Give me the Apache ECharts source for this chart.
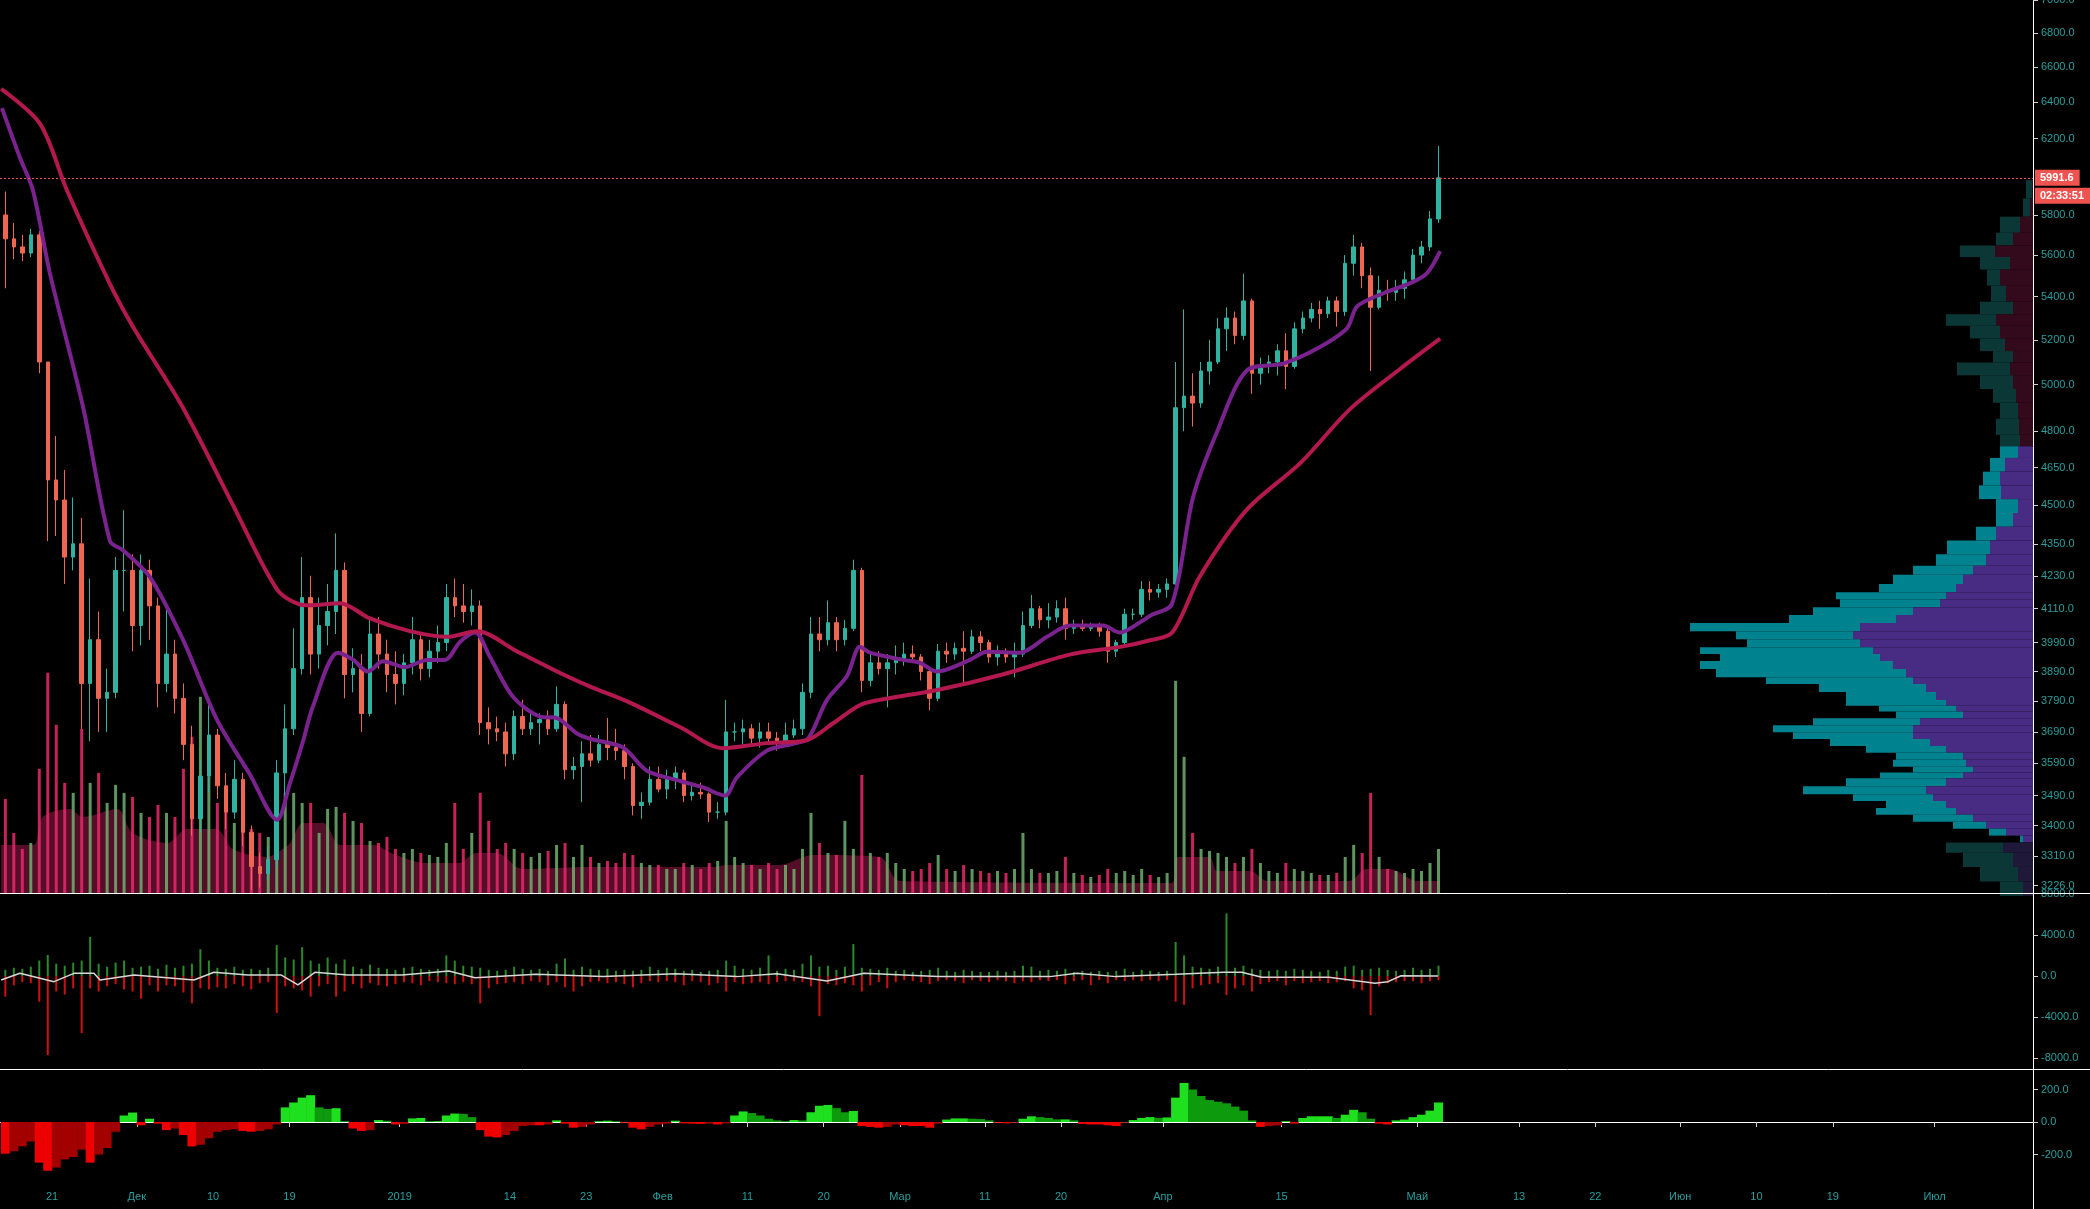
<!DOCTYPE html>
<html><head><meta charset="utf-8">
<script src="https://cdn.jsdelivr.net/npm/echarts@6/dist/echarts.min.js"></script>
<style>html,body{margin:0;padding:0;background:#000;}#c{width:2090px;height:1209px;}</style>
</head><body><div id="c"></div>
<script>
const DAY = 86400000;
const START = Date.UTC(2018, 10, 15);
const X_MIN = Date.UTC(2018, 10, 21) - 6.132 * DAY;
const X_MAX = X_MIN + 239.74 * DAY;

// daily candles from 2018-11-15: [open, high, low, close]
const candles = [
[5800,5920,5440,5680],[5680,5760,5580,5640],[5640,5700,5570,5610],[5610,5730,5590,5700],[5700,5720,5050,5100],
[5100,5100,4360,4600],[4600,4780,4380,4520],[4520,4640,4200,4300],[4300,4530,4250,4350],[4350,4450,3700,3850],
[3850,4220,3660,4000],[4000,4100,3690,3800],[3800,3900,3690,3820],[3820,4300,3800,4250],[4250,4480,4100,4250],
[4250,4310,3960,4050],[4050,4310,3980,4250],[4250,4290,4000,4120],[4120,4150,3770,3850],[3850,4120,3820,3950],
[3950,4000,3750,3800],[3800,3850,3600,3650],[3650,3710,3370,3420],[3420,3600,3380,3550],[3550,3780,3500,3680],
[3680,3700,3480,3520],[3520,3560,3390,3440],[3440,3600,3420,3540],[3540,3560,3340,3380],[3380,3400,3213,3280],
[3280,3320,3220,3260],[3260,3340,3240,3300],[3300,3600,3280,3560],[3560,3780,3480,3700],[3700,4040,3680,3900],
[3900,4300,3880,4150],[4150,4230,3880,3950],[3950,4150,3900,4050],[4050,4200,3980,4100],[4100,4390,4020,4250],
[4250,4280,3800,3880],[3880,3970,3820,3900],[3900,3950,3690,3750],[3750,4080,3740,4020],[4020,4080,3900,3950],
[3950,4000,3820,3880],[3880,3960,3780,3850],[3850,3950,3810,3920],[3920,4080,3880,4000],[4000,4020,3860,3900],
[3900,4000,3870,3960],[3960,4050,3920,3990],[3990,4200,3960,4150],[4150,4220,4080,4120],[4120,4200,4060,4100],
[4100,4180,4050,4120],[4120,4140,3680,3720],[3720,3770,3650,3700],[3700,3740,3660,3690],[3690,3720,3580,3620],
[3620,3760,3600,3740],[3740,3795,3680,3700],[3700,3760,3680,3720],[3720,3750,3650,3730],[3730,3760,3680,3700],
[3700,3840,3690,3780],[3780,3790,3540,3570],[3570,3610,3540,3580],[3580,3660,3470,3620],[3620,3680,3580,3600],
[3600,3680,3590,3650],[3650,3735,3600,3640],[3640,3700,3600,3630],[3630,3650,3540,3580],[3580,3590,3430,3460],
[3460,3500,3420,3470],[3470,3580,3460,3540],[3540,3580,3500,3510],[3510,3570,3480,3540],[3540,3580,3510,3560],
[3560,3570,3470,3490],[3490,3530,3475,3500],[3500,3530,3480,3495],[3495,3500,3410,3440],[3440,3470,3420,3440],
[3440,3795,3430,3690],[3690,3720,3660,3690],[3690,3730,3650,3700],[3700,3715,3650,3670],[3670,3720,3640,3690],
[3690,3720,3650,3670],[3670,3690,3630,3660],[3660,3720,3650,3680],[3680,3730,3670,3700],[3700,3850,3680,3820],
[3820,4080,3800,4020],[4020,4080,3960,4000],[4000,4140,3980,4060],[4060,4080,3960,4000],[4000,4070,3980,4040],
[4040,4290,4030,4250],[4250,4260,3820,3860],[3860,3960,3840,3920],[3920,3960,3880,3900],[3900,3950,3770,3920],
[3920,3980,3880,3930],[3930,3990,3910,3950],[3950,3980,3920,3940],[3940,3950,3860,3890],[3890,3900,3760,3800],
[3800,3985,3790,3960],[3960,3990,3920,3950],[3950,3990,3930,3970],[3970,4030,3850,3960],[3960,4035,3950,4010],
[4010,4030,3960,3990],[3990,4000,3920,3940],[3940,3980,3910,3950],[3950,3970,3920,3940],[3940,3990,3870,3950],
[3950,4100,3940,4050],[4050,4160,4040,4110],[4110,4120,4040,4070],[4070,4130,4040,4080],[4080,4140,4060,4110],
[4110,4150,4000,4040],[4040,4070,4020,4050],[4050,4070,4030,4040],[4040,4060,4030,4050],[4050,4060,4010,4030],
[4030,4040,3920,3960],[3960,4000,3940,3990],[3990,4110,3980,4090],[4090,4110,4070,4090],[4090,4210,4080,4180],
[4180,4210,4140,4170],[4170,4200,4150,4180],[4180,4220,4150,4200],[4200,5100,4180,4900],[4900,5340,4800,4950],
[4950,5050,4820,4920],[4920,5100,4900,5060],[5060,5200,5000,5100],[5100,5300,5090,5250],[5250,5350,5150,5300],
[5300,5330,5180,5220],[5220,5510,5200,5380],[5380,5390,4960,5050],[5050,5120,5000,5080],[5080,5130,5050,5100],
[5100,5180,5040,5150],[5150,5230,4980,5080],[5080,5280,5070,5250],[5250,5330,5230,5300],[5300,5370,5280,5340],
[5340,5380,5250,5320],[5320,5400,5300,5380],[5380,5400,5260,5330],[5330,5600,5310,5560],[5560,5700,5500,5640],
[5640,5660,5440,5500],[5500,5540,5060,5350],[5350,5500,5340,5430],[5430,5480,5380,5420],[5420,5480,5380,5440],
[5440,5520,5390,5480],[5480,5630,5470,5600],[5600,5670,5560,5640],[5640,5820,5620,5780],[5780,6160,5760,5991.6]
];

// daily volume (thousand BTC)
const volumes = [23.5,15,11,12.5,31,55,42,27.5,25,41,27.5,30,22.5,27,25,24,20,19,22,20,19,31,39,49,29,22.5,24,17.5,16,16,15,14,26,25,25,22.5,22.5,15,21,21.5,20,18,17.5,13,12.5,14,11,10,11,10,9.5,9,12.5,22.5,11,15,25,18,11,12.5,11,10,9,10,10.5,12,12.5,9,12,9,7.5,8,7.5,10,9.5,7.5,7,7,6,6,7.5,7,6,7.5,8,18,9,7.5,7,6,7.5,6,7,6,11,20,12.5,10,9.5,18,11,29.5,10,9,10,7.5,6,5.5,6,7.5,9.5,6,5.5,7,6,5.5,5,5.5,5,6,15,6,5,5,5.5,9,5,4.5,4,4.5,6,5,5.5,4.5,6,4.5,4,5,53,34,15,11,10.5,10,9,7.5,9,11,7.5,5.5,5,7.5,6,5.5,5,4.5,4.5,5,9,12,10,25,9,6,5.5,5,6,5.5,7.5,11];

// volume moving average: [day offset, value]
const volumeMA = [[0,12],[3.8,12],[4.9,19],[8.1,21],[9.6,19],[13.7,21],[15.5,15],[19.6,12.5],[21.9,16],[25.4,16],[27.3,11],[31.3,9],[33.2,11],[34.1,12.5],[35.6,17.5],[38,17.5],[40,12],[44,12],[46,10],[50,7.5],[54,7.5],[56,10],[58.5,10],[61.5,6],[69.4,6.5],[84,6.5],[85.6,7],[91.8,7],[95.7,9.5],[103.6,9],[106,3],[138,2.5],[138.7,9],[142.5,9],[143.4,5.5],[147.3,5.5],[149.3,3],[159,3],[161,6],[163.8,6],[167,3],[169.7,3]];

// moving averages: [day offset, price]
const maFast = [[0.1,6368],[2.2,6100],[3.75,5927],[5.76,5510],[9.65,4905],[12.84,4360],[14.37,4326],[17.55,4225],[21.44,4000],[25.45,3730],[29.34,3555],[32.53,3417],[34.06,3528],[35.6,3660],[36.77,3773],[39.72,3955],[41.49,3931],[43.26,3890],[45.03,3925],[47.62,3905],[50.22,3930],[52.34,3930],[54.11,3992],[55.88,4025],[57.65,3940],[60.36,3805],[63.54,3740],[65.55,3735],[67.9,3685],[69.44,3668],[73.33,3640],[76.16,3567],[80.05,3535],[82.77,3515],[85.36,3490],[86.77,3546],[90.31,3630],[93.38,3652],[95.15,3668],[97.39,3795],[99.75,3875],[101.28,3975],[102.46,3955],[106.35,3930],[108.35,3920],[110.36,3890],[114.25,3930],[116.26,3958],[120.15,3955],[123.33,4010],[126.04,4050],[129.93,4050],[131.93,4025],[134.65,4068],[135.5,4085],[138.07,4127],[140.55,4530],[143.38,4797],[146.9,5062],[151.2,5093],[155.2,5160],[158.7,5252],[159.9,5354],[162.95,5415],[166.1,5463],[168.1,5510],[169.7,5620]];
const maSlow = [[0,6476],[4.58,6282],[7.76,5927],[12.84,5460],[15.55,5260],[21.44,4900],[27.34,4500],[32.53,4180],[35.24,4125],[36.42,4122],[39.96,4130],[43.5,4075],[48.2,4030],[52.6,4010],[56.1,4030],[60.8,3960],[66.3,3880],[69.4,3840],[74.2,3785],[80.1,3705],[85.1,3638],[90.3,3654],[95.0,3663],[98.1,3718],[101.3,3778],[103.6,3795],[110.4,3828],[118.1,3880],[126.0,3948],[132.0,3975],[135.5,3998],[138.1,4025],[141.4,4230],[146.9,4482],[153.2,4668],[159.1,4895],[165.0,5070],[169.7,5205]];

// volume delta panel
const deltaBuy = [600,800,700,900,1500,2040,1200,1000,1300,1500,3790,1200,900,1300,1500,800,900,1000,700,1100,800,1000,1200,2600,1500,800,700,900,600,700,600,800,3000,1800,1600,2800,1500,1200,1800,1200,1600,900,700,1100,800,700,600,800,900,700,600,700,2000,1500,1000,900,800,600,500,600,900,700,600,700,500,1200,1700,600,900,700,600,700,500,600,500,600,900,600,800,700,500,600,400,500,600,1500,1000,700,600,800,2000,500,700,600,1200,2000,900,1000,600,900,3100,800,700,600,800,500,600,400,500,600,800,500,400,600,500,400,400,500,400,500,1000,900,500,600,500,700,400,500,400,500,400,500,700,400,600,500,400,500,3300,2000,900,800,700,900,6080,800,1000,700,600,500,600,500,700,600,500,400,600,500,900,1000,600,700,800,600,500,600,800,600,700,1000];
const deltaSell = [-2000,-900,-600,-700,-2500,-7670,-1500,-1800,-1200,-5530,-1200,-1500,-1000,-800,-1300,-1500,-2200,-900,-1500,-900,-1000,-1600,-2650,-1200,-1300,-1100,-1200,-800,-1000,-1300,-700,-600,-3600,-1000,-1200,-1400,-2000,-1000,-800,-2000,-1500,-800,-1200,-700,-900,-1000,-800,-600,-700,-900,-500,-600,-700,-800,-600,-800,-2650,-1200,-800,-700,-600,-800,-500,-600,-900,-600,-1100,-1500,-1000,-600,-500,-700,-600,-800,-1100,-700,-500,-600,-500,-600,-900,-500,-600,-900,-700,-1500,-600,-800,-700,-600,-800,-600,-500,-500,-600,-1000,-3900,-800,-900,-700,-900,-1500,-900,-600,-1200,-600,-400,-500,-600,-800,-500,-400,-500,-700,-400,-500,-600,-400,-500,-700,-500,-600,-400,-500,-400,-800,-500,-400,-900,-400,-700,-400,-500,-400,-500,-400,-500,-400,-2500,-2800,-1200,-900,-800,-700,-1850,-1200,-900,-1500,-800,-600,-500,-900,-500,-700,-600,-500,-700,-600,-500,-1200,-1400,-3790,-1000,-700,-600,-500,-500,-700,-500,-400];
const deltaLine = [[0,-390],[2.22,260],[6.23,-550],[8.59,260],[10.95,260],[11.66,-390],[15.67,100],[22.74,-390],[25.1,360],[29.11,100],[33.0,100],[35.0,-870],[37.0,360],[40.9,100],[47.27,100],[52.81,490],[55.88,-160],[63.07,160],[70.97,-60],[79.58,230],[86.77,-60],[91.49,230],[97.38,-490],[101.75,260],[110.48,-60],[123.68,-60],[126.87,260],[131.47,-60],[138.54,160],[144.2,360],[146.3,360],[148.68,-130],[156.58,-130],[162.0,-710],[163.55,-550],[165.08,30],[169.44,0]];

// oscillator panel (daily)
const oscillator = [-195,-180,-150,-120,-250,-300,-280,-230,-215,-170,-250,-200,-160,-60,40,58,-20,20,-10,-50,-40,-80,-150,-140,-100,-60,-50,-45,-55,-60,-55,-45,-15,90,120,150,165,90,80,85,5,-40,-55,-50,12,8,-15,-12,22,25,5,5,40,52,50,30,-50,-90,-95,-80,-55,-25,-20,-20,-15,10,-10,-35,-30,-15,5,8,5,-5,-35,-45,-30,-15,-10,8,-8,-10,-12,-10,-15,-8,40,65,55,40,20,10,5,12,10,60,100,105,85,60,68,-25,-30,-35,-30,-15,-20,-25,-25,-35,-10,15,22,22,20,18,10,-5,-8,-5,20,35,30,25,16,16,10,-12,-15,-15,-20,-25,-5,12,25,30,25,28,150,240,200,160,135,125,115,95,70,10,-30,-25,-20,5,-10,25,35,35,35,25,45,75,60,20,-10,-15,10,15,30,45,70,120];

// volume profile rows (price, up volume, down volume)
const vpPrice = [5932,5838,5745,5676,5619,5563,5496,5409,5344,5291,5238,5175,5123,5072,5011,4951,4892,4814,4757,4718,4661,4606,4551,4496,4442,4389,4337,4285,4250,4217,4183,4157,4132,4099,4075,4042,4018,3986,3962,3938,3914,3883,3859,3837,3806,3783,3768,3745,3723,3700,3678,3656,3634,3612,3590,3569,3554,3533,3505,3484,3463,3442,3422,3401,3380,3360,3340,3300,3258,3217];
const vpUp = [6,7,20,17,35,30,13,15,33,50,30,25,20,53,33,23,18,23,20,18,15,17,22,22,17,20,43,50,60,70,77,110,100,100,107,170,117,113,173,160,193,190,147,107,90,100,77,67,107,140,120,100,80,67,73,60,83,100,123,80,60,80,60,33,17,3,57,50,38,23];
const vpDown = [1,3,13,20,38,23,33,27,20,37,33,28,20,23,20,17,15,14,13,15,28,33,32,15,20,37,43,47,60,70,77,87,93,120,137,173,180,173,160,153,140,127,120,107,97,87,77,70,113,120,120,103,87,70,67,60,70,87,107,100,87,77,60,47,27,10,30,20,15,10];
const vaHigh = 4745, vaLow = 3352;

const priceTicks = [7000,6800,6600,6400,6200,5800,5600,5400,5200,5000,4800,4650,4500,4350,4230,4110,3990,3890,3790,3690,3590,3490,3400,3310,3226];
const deltaTicks = [8000,4000,0,-4000,-8000];
const oscTicks = [200,0,-200];
const dateTicks = [['2018-11-21','21'],['2018-12-01','Дек'],['2018-12-10','10'],['2018-12-19','19'],['2019-01-01','2019'],['2019-01-14','14'],['2019-01-23','23'],['2019-02-01','Фев'],['2019-02-11','11'],['2019-02-20','20'],['2019-03-01','Мар'],['2019-03-11','11'],['2019-03-20','20'],['2019-04-01','Апр'],['2019-04-15','15'],['2019-05-01','Май'],['2019-05-13','13'],['2019-05-22','22'],['2019-06-01','Июн'],['2019-06-10','10'],['2019-06-19','19'],['2019-07-01','Июл']];
const lastPrice = 5991.6;
const countdown = '02:33:51';

// ---------- build ----------
const FONT = 'Liberation Sans, Arial, sans-serif';
const LBL = '#2a9f9f';
const tOf = d => START + d * DAY;
const candleData = candles.map((c, i) => [tOf(i + 0.5), c[0], c[3], c[2], c[1]]);
const isUp = i => candles[i][3] >= candles[i][0];
const volData = volumes.map((v, i) => [tOf(i + 0.5), v]);
const pairs = arr => arr.map(p => [tOf(p[0]), p[1]]);
const tickMs = dateTicks.map(d => Date.parse(d[0]));
const tickText = {}; dateTicks.forEach(d => { tickText[Date.parse(d[0])] = d[1]; });

const vpRows = vpPrice.map((p, k) => {
  const hi = k === 0 ? p * Math.sqrt(p / vpPrice[1]) : Math.sqrt(p * vpPrice[k - 1]);
  const lo = k === vpPrice.length - 1 ? p * Math.sqrt(p / vpPrice[k - 1]) : Math.sqrt(p * vpPrice[k + 1]);
  return [lo, hi, vpUp[k], vpDown[k], p];
});

function oscColor(k) {
  const v = oscillator[k], p = k > 0 ? oscillator[k - 1] : 0;
  if (v >= 0) return v >= p ? '#1fe01f' : '#0d9a0d';
  return v <= p ? '#ee0000' : '#a30000';
}

const rightAxis = (grid, min, max, ticks, type) => ({
  gridIndex: grid, type: type || 'value', min: min, max: max, position: 'right',
  axisLine: {show: true, lineStyle: {color: '#ffffff', width: 1}},
  axisTick: {show: true, length: 5, customValues: ticks, lineStyle: {color: '#d0d0d0'}},
  axisLabel: {show: true, customValues: ticks, color: LBL, fontSize: 11, fontFamily: FONT, margin: 8,
    formatter: v => Number(v).toFixed(1)},
  splitLine: {show: false}
});
const hiddenX = grid => ({gridIndex: grid, type: 'value', min: X_MIN, max: X_MAX, show: false, splitLine: {show: false}});
const tagLabel = (text, offY) => ({show: true, position: 'end', distance: 2, offset: [0, offY], formatter: text,
  backgroundColor: '#ef5350', color: '#ffffff', fontWeight: 'bold', fontSize: 11, fontFamily: FONT, padding: [3, 6, 2, 5]});

const option = {
  backgroundColor: '#000000',
  animation: false,
  grid: [
    {left: 0, right: 57, top: 0, height: 893, outerBoundsMode: 'none', containLabel: false},
    {left: 0, right: 57, top: 893, height: 176, outerBoundsMode: 'none', containLabel: false},
    {left: 0, right: 57, top: 1069, height: 113, outerBoundsMode: 'none', containLabel: false}
  ],
  xAxis: [
    hiddenX(0),
    {gridIndex: 0, type: 'value', min: 0, max: 2033, inverse: true, show: false, splitLine: {show: false}},
    hiddenX(1),
    {gridIndex: 2, type: 'value', min: X_MIN, max: X_MAX, position: 'bottom',
      axisLine: {show: true, lineStyle: {color: '#ffffff', width: 1}},
      axisTick: {show: true, length: 5, customValues: tickMs, lineStyle: {color: '#d0d0d0'}},
      axisLabel: {show: true, customValues: tickMs, color: LBL, fontSize: 11, fontFamily: FONT, margin: 9,
        formatter: v => tickText[v] || ''},
      splitLine: {show: false}}
  ],
  yAxis: [
    rightAxis(0, 3205, 7000, priceTicks, 'log'),
    {gridIndex: 0, type: 'value', min: 0, max: 223, show: false, splitLine: {show: false}},
    rightAxis(1, -9030, 8060, deltaTicks),
    rightAxis(2, -369, 326, oscTicks)
  ],
  graphic: [
    {type: 'line', shape: {x1: 0, y1: 893.5, x2: 2090, y2: 893.5}, style: {stroke: '#ffffff', lineWidth: 1}, z: 100},
    {type: 'line', shape: {x1: 0, y1: 1069.5, x2: 2090, y2: 1069.5}, style: {stroke: '#ffffff', lineWidth: 1}, z: 100},
    {type: 'line', shape: {x1: 2033.5, y1: 1182, x2: 2033.5, y2: 1209}, style: {stroke: '#ffffff', lineWidth: 1}, z: 100}
  ],
  series: [
    {name: 'VolMA', type: 'line', xAxisIndex: 0, yAxisIndex: 1, data: pairs(volumeMA), smooth: 0.3,
      showSymbol: false, lineStyle: {width: 0}, areaStyle: {color: '#5a0f2a', opacity: 0.95}, z: 1},
    {name: 'Volume', type: 'bar', xAxisIndex: 0, yAxisIndex: 1, data: volData, barWidth: 3, z: 2,
      itemStyle: {color: p => isUp(p.dataIndex) ? 'rgba(110,175,110,0.85)' : 'rgba(226,40,104,0.88)'}},
    {name: 'Profile', type: 'custom', xAxisIndex: 1, yAxisIndex: 0, data: vpRows, encode: {x: 2, y: 4}, z: 2,
      renderItem: (params, api) => {
        const lo = api.value(0), hi = api.value(1), up = api.value(2), dn = api.value(3), mid = api.value(4);
        const inVA = mid <= vaHigh && mid >= vaLow, above = mid > vaHigh;
        const a = api.coord([0, hi]), b = api.coord([dn, lo]), c = api.coord([dn + up, lo]);
        const dnCol = inVA ? '#482b83' : (above ? '#330a1b' : '#1f1838');
        const upCol = inVA ? '#00838f' : '#0b3836';
        return {type: 'group', children: [
          {type: 'rect', shape: {x: b[0], y: a[1], width: a[0] - b[0], height: b[1] - a[1]}, style: {fill: dnCol}},
          {type: 'rect', shape: {x: c[0], y: a[1], width: b[0] - c[0], height: b[1] - a[1]}, style: {fill: upCol}}
        ]};
      }},
    {name: 'Price', type: 'candlestick', xAxisIndex: 0, yAxisIndex: 0, data: candleData,
      encode: {x: 0, y: [1, 2, 3, 4]}, barWidth: 4, z: 3,
      itemStyle: {color: '#2fb3a0', color0: '#ef6653', borderColor: '#2fb3a0', borderColor0: '#ef6653', borderWidth: 1},
      markLine: {symbol: ['none', 'none'], silent: true, animation: false,
        lineStyle: {color: '#ef5350', type: [2, 2], width: 1},
        data: [
          {yAxis: lastPrice, label: tagLabel(lastPrice.toFixed(1), 0)},
          {yAxis: lastPrice, lineStyle: {color: 'rgba(0,0,0,0)'}, label: tagLabel(countdown, 18)}
        ]}},
    {name: 'MA slow', type: 'line', xAxisIndex: 0, yAxisIndex: 0, data: pairs(maSlow), smooth: 0.3, showSymbol: false,
      lineStyle: {color: '#b3184e', width: 4}, z: 5},
    {name: 'MA fast', type: 'line', xAxisIndex: 0, yAxisIndex: 0, data: pairs(maFast), smooth: 0.3, showSymbol: false,
      lineStyle: {color: '#7a228e', width: 4}, z: 4},
    {name: 'Buy', type: 'bar', xAxisIndex: 2, yAxisIndex: 2, data: deltaBuy.map((v, i) => [tOf(i + 0.5), v]),
      barWidth: 2, barGap: '-100%', itemStyle: {color: '#2a8a2a'}},
    {name: 'Sell', type: 'bar', xAxisIndex: 2, yAxisIndex: 2, data: deltaSell.map((v, i) => [tOf(i + 0.5), v]),
      barWidth: 2, barGap: '-100%', itemStyle: {color: '#d01010'}},
    {name: 'Delta', type: 'line', xAxisIndex: 2, yAxisIndex: 2, data: pairs(deltaLine), showSymbol: false,
      lineStyle: {color: '#d8d8d8', width: 1.5}, z: 5},
    {name: 'Osc', type: 'bar', xAxisIndex: 3, yAxisIndex: 3, data: oscillator.map((v, i) => [tOf(i + 0.5), v]),
      barWidth: 9, itemStyle: {color: p => oscColor(p.dataIndex)}}
  ]
};
const chart = echarts.init(document.getElementById('c'), null, {renderer: 'canvas'});
chart.setOption(option);
</script></body></html>
